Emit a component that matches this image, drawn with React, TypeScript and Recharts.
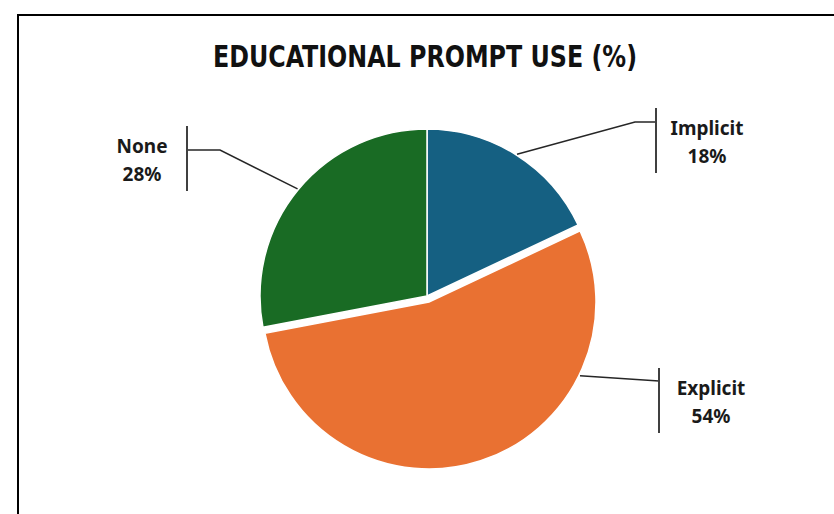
import { Cell, Pie, PieChart } from "recharts";

const categories = ["Implicit", "Explicit", "None"];
const shares = [18, 54, 28];

const data = categories.map((name, i) => ({ name, value: shares[i] }));

const COLORS: Record<string, string> = {
  Implicit: "#156082",
  Explicit: "#E97132",
  None: "#196B24",
};

// which slice is pulled out of the pie
const EXPLODED = "Explicit";

// leader line / label layout, per slice
const LABEL_LAYOUT: Record<string, any> = {
  Implicit: { angle: null, elbow: [635, 122], barX: 656, barY: [108, 173], textX: 707, textY: 135 },
  Explicit: { angle: -26, elbow: [659, 381], barX: 659, barY: [368, 433], textX: 711, textY: 395 },
  None: { angle: null, elbow: [220, 150], barX: 187, barY: [126, 191], textX: 142, textY: 153 },
};

const RAD = Math.PI / 180;

function makeLabel(exploded: boolean) {
  return (props: any) => {
    const { cx, cy, midAngle, outerRadius, name, value } = props;
    if ((name === EXPLODED) !== exploded) return null;
    const lay = LABEL_LAYOUT[name];
    const a = lay.angle ?? midAngle;
    const sx = cx + (outerRadius + 1) * Math.cos(-a * RAD);
    const sy = cy + (outerRadius + 1) * Math.sin(-a * RAD);
    const [ex, ey] = lay.elbow;
    return (
      <g key={`lbl-${name}`}>
        <polyline
          points={`${sx},${sy} ${ex},${ey} ${lay.barX},${ey}`}
          fill="none"
          stroke="#262626"
          strokeWidth={1.5}
        />
        <line
          x1={lay.barX}
          x2={lay.barX}
          y1={lay.barY[0]}
          y2={lay.barY[1]}
          stroke="#404040"
          strokeWidth={2}
        />
        <text
          x={lay.textX}
          y={lay.textY}
          textAnchor="middle"
          fontFamily="'Noto Sans', sans-serif"
          fontWeight={700}
          fontSize={19}
          fill="#1a1a1a"
        >
          {name}
        </text>
        <text
          x={lay.textX}
          y={lay.textY + 28}
          textAnchor="middle"
          fontFamily="'Noto Sans', sans-serif"
          fontWeight={700}
          fontSize={19}
          fill="#1a1a1a"
        >
          {`${value}%`}
        </text>
      </g>
    );
  };
}

function App() {
  return (
    <div
      style={{
        position: "absolute",
        left: 0,
        top: 0,
        width: 834,
        height: 514,
        overflow: "hidden",
        background: "#fff",
      }}
    >
      <div
        style={{
          position: "absolute",
          left: 17,
          top: 14,
          width: 900,
          height: 600,
          border: "2px solid #000",
        }}
      />
      <svg
        width={834}
        height={100}
        style={{ position: "absolute", left: 0, top: 0 }}
      >
        <text
          x={425}
          y={67}
          textAnchor="middle"
          textLength={424}
          lengthAdjust="spacingAndGlyphs"
          fontFamily="'DejaVu Sans Condensed', 'DejaVu Sans', sans-serif"
          fontWeight={700}
          fontSize={31}
          fill="#111"
        >
          EDUCATIONAL PROMPT USE (%)
        </text>
      </svg>
      <div style={{ position: "absolute", left: 0, top: 0 }}>
        <PieChart width={834} height={514}>
          <Pie
            data={data}
            dataKey="value"
            nameKey="name"
            cx={422}
            cy={291}
            outerRadius={167}
            startAngle={90}
            endAngle={-270}
            stroke="#fff"
            strokeWidth={1.5}
            label={makeLabel(false)}
            labelLine={false}
            isAnimationActive={false}
          >
            {data.map((d) => (
              <Cell
                key={d.name}
                fill={d.name === EXPLODED ? "none" : COLORS[d.name]}
                stroke={d.name === EXPLODED ? "none" : "#fff"}
              />
            ))}
          </Pie>
          <Pie
            data={data}
            dataKey="value"
            nameKey="name"
            cx={424}
            cy={297}
            outerRadius={167}
            startAngle={90}
            endAngle={-270}
            stroke="#fff"
            strokeWidth={1.5}
            label={makeLabel(true)}
            labelLine={false}
            isAnimationActive={false}
          >
            {data.map((d) => (
              <Cell
                key={d.name}
                fill={d.name === EXPLODED ? COLORS[d.name] : "none"}
                stroke={d.name === EXPLODED ? "#fff" : "none"}
              />
            ))}
          </Pie>
        </PieChart>
      </div>
    </div>
  );
}

export default App;
